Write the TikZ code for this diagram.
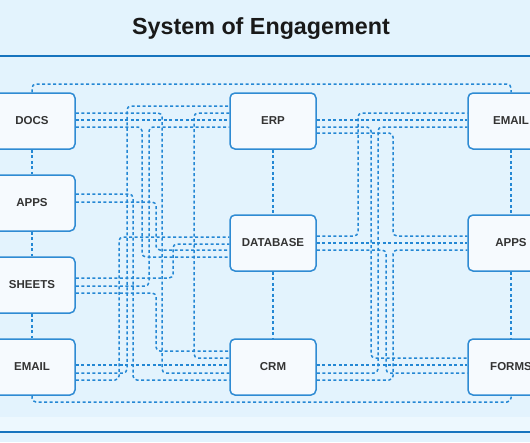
\documentclass[tikz,border=0pt]{standalone}
\usepackage{fontspec}
\setmainfont{Liberation Sans}

\definecolor{bgblue}{HTML}{E3F3FD}
\definecolor{bandblue}{HTML}{EDF8FE}
\definecolor{linkblue}{HTML}{2387D4}
\definecolor{ruleblue}{HTML}{1774BE}
\definecolor{boxfill}{HTML}{F6FAFE}
\definecolor{boxline}{HTML}{2F8BD3}
\definecolor{labelgray}{HTML}{333333}

\tikzset{
    box/.style={draw=boxline, line width=1.5pt, fill=boxfill, rounded corners=5pt,
        minimum width=86pt, minimum height=56pt, inner sep=0pt,
        font=\fontsize{11.5}{12}\selectfont\bfseries, text=labelgray},
    link/.style={draw=linkblue, line width=1.5pt, dash pattern=on 3pt off 2.5pt, rounded corners=4pt},
}

\begin{document}
\begin{tikzpicture}[x=1pt,y=-1pt]
    \useasboundingbox (0,0) rectangle (530,442);
    \clip (0,0) rectangle (530,442);
    \fill[bgblue] (0,0) rectangle (530,442);
    \fill[bandblue] (0,417) rectangle (530,431);

    % Title and rules
    \node[font=\fontsize{23.3}{26}\selectfont\bfseries, text=black!90] (title) at (261,29) {System of Engagement};
    \draw[ruleblue, line width=2.4pt] (0,56) -- (530,56);
    \draw[ruleblue, line width=2.4pt] (0,432) -- (530,432);

    % Systems
    \node[box] (ldocs) at (32,121) {DOCS};
    \node[box] (lapps) at (32,203) {APPS};
    \node[box] (lsheets) at (32,285) {SHEETS};
    \node[box] (lemail) at (32,367) {EMAIL};
    \node[box] (erp) at (273,121) {ERP};
    \node[box] (db) at (273,243) {DATABASE};
    \node[box] (crm) at (273,367) {CRM};
    \node[box] (remail) at (511,121) {EMAIL};
    \node[box] (rapps) at (511,243) {APPS};
    \node[box] (forms) at (511,367) {FORMS};

    % Column links
    \draw[link] (ldocs) -- (lapps);
    \draw[link] (lapps) -- (lsheets);
    \draw[link] (lsheets) -- (lemail);
    \draw[link] (erp) -- (db);
    \draw[link] (db) -- (crm);
    \draw[link] (remail) -- (rapps);
    \draw[link] (rapps) -- (forms);

    % Outer loops
    \draw[link] (ldocs.north) -- (32,84) -- (511,84) -- (remail.north);
    \draw[link] (lemail.south) -- (32,402) -- (511,402) -- (forms.south);

    % Straight links
    \foreach \a/\b/\y in {ldocs/erp/120, lemail/crm/365, erp/remail/120, db/rapps/243, crm/forms/365}
        \draw[link] (\a.east |- 0,\y) -- (\b.west |- 0,\y);

    % Left side wiring
    \foreach \a/\b/\ya/\x/\yb in {ldocs/crm/113/162/373, ldocs/db/127/142/257,
        lapps/crm/194/133/380, lapps/db/202/156/250,
        lsheets/db/278/173/244, lsheets/erp/286/149/127, lsheets/crm/293/156/351,
        lemail/erp/373/127/106, lemail/db/380/119/237}
        \draw[link] (\a.east |- 0,\ya) -- (\x,\ya) -- (\x,\yb) -- (\b.west |- 0,\yb);
    \draw[link] (erp.west |- 0,113) -- (194,113) -- (194,358) -- (crm.west |- 0,358);

    % Right side wiring
    \foreach \a/\b/\ya/\x/\yb in {db/remail/236/358/113, crm/remail/373/378/127,
        erp/forms/127/371/358, erp/rapps/133/393/236,
        db/forms/250/386/373, crm/rapps/380/393/250}
        \draw[link] (\a.east |- 0,\ya) -- (\x,\ya) -- (\x,\yb) -- (\b.west |- 0,\yb);
\end{tikzpicture}
\end{document}
